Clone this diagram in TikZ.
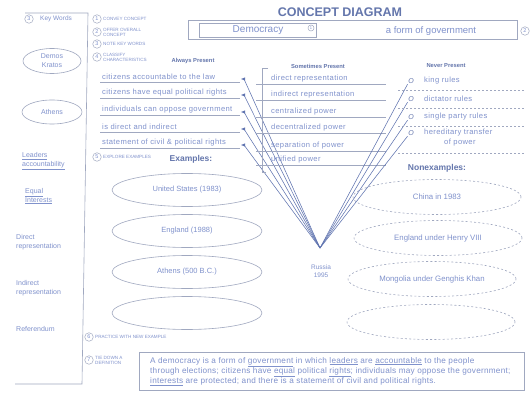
\documentclass[tikz,border=0pt]{standalone}
\usepackage{fontspec}
\setmainfont{Liberation Sans}
\usetikzlibrary{shapes.geometric}
\definecolor{tb}{RGB}{128,146,204}
\definecolor{lg}{RGB}{160,168,192}
\definecolor{tt}{RGB}{100,118,172}
\definecolor{cl}{RGB}{96,116,176}
\begin{document}
\begin{tikzpicture}[x=1pt,y=-1pt,
  num/.style={circle,draw=lg,line width=0.5pt,inner sep=0pt,minimum size=8.5pt,font=\fontsize{5.5}{5.5}\selectfont,text=tb},
  steptxt/.style={anchor=west,align=left,text=tb,font=\fontsize{4.6}{5}\selectfont,inner sep=0pt},
  hdr/.style={text=tt,font=\fontsize{5.8}{6.5}\selectfont\bfseries,inner sep=0pt},
  item/.style={anchor=west,text=tb,font=\fontsize{7.6}{8.5}\selectfont\addfontfeature{LetterSpace=5},inner sep=0pt},
  kwtxt/.style={text=tb,font=\fontsize{7}{9}\selectfont,align=left,inner sep=0pt},
  exell/.style={ellipse,draw=lg,line width=0.6pt,minimum width=150pt,minimum height=33pt,text=tb,font=\fontsize{7.5}{8}\selectfont},
  nexell/.style={ellipse,draw=lg,line width=0.6pt,dash pattern=on 2pt off 2.2pt,minimum width=168pt,minimum height=35pt,text=tb,font=\fontsize{7.8}{8}\selectfont},
  ul/.style={draw=lg,line width=0.5pt},
  dul/.style={draw=lg,line width=0.5pt,dash pattern=on 2pt off 2pt},
  conv/.style={draw=cl,line width=0.55pt},
  markpt/.style={inner sep=0pt,minimum size=0pt}
]
\useasboundingbox (0,0) rectangle (532,398);
\fill[white] (0,0) rectangle (532,398);

% title
\node[text=tt,font=\fontsize{12.5}{13}\selectfont\bfseries] (title) at (340,12) {CONCEPT DIAGRAM};

% key words column
\draw[lg,line width=0.6pt] (25,13) -- (88,13) -- (82,384) -- (15,384);
\node[num] (n3) at (29,19) {3};
\node[anchor=west,text=tb,font=\fontsize{6.5}{6.5}\selectfont,inner sep=0pt] (kwh) at (40,19) {Key Words};
\node[ellipse,draw=lg,line width=0.6pt,minimum width=58pt,minimum height=25pt,kwtxt,align=center] (k1) at (52,61) {Demos\\Kratos};
\node[ellipse,draw=lg,line width=0.6pt,minimum width=60pt,minimum height=24pt,kwtxt] (k2) at (52,112) {Athens};
\node[kwtxt,anchor=west] (k3) at (22,161) {\underline{Leaders}\\\underline{accountability}};
\node[kwtxt,anchor=west] (k4) at (25,196) {\underline{Equal}\\\underline{Interests}};
\node[kwtxt,anchor=west] (k5) at (16,242) {Direct\\representation};
\node[kwtxt,anchor=west] (k6) at (16,288) {Indirect\\representation};
\node[kwtxt,anchor=west] (k7) at (16,329) {Referendum};

% step labels
\node[num] (s1) at (97,19) {1};
\node[steptxt] (t1) at (103,19) {CONVEY CONCEPT};
\node[num] (s2) at (97,32) {2};
\node[steptxt] (t2) at (103,32) {OFFER OVERALL\\CONCEPT};
\node[num] (s3) at (97,44) {3};
\node[steptxt] (t3) at (103,44) {NOTE KEY WORDS};
\node[num] (s4) at (97,57) {4};
\node[steptxt] (t4) at (103,57) {CLASSIFY\\CHARACTERISTICS};

% concept box
\draw[lg,line width=0.6pt] (188,20) rectangle (517,39);
\node[draw=lg,line width=0.6pt,minimum width=117pt,minimum height=14pt,inner sep=0pt,text=tb,font=\fontsize{10}{10}\selectfont] (concept) at (258,30) {Democracy};
\node[num,minimum size=6pt,font=\fontsize{4}{4}\selectfont] (c1) at (311,28) {1};
\node[text=tb,font=\fontsize{9.5}{10}\selectfont,inner sep=0pt] (overall) at (431,31) {a form of government};
\node[num] (c2) at (525,31) {2};

% headers
\node[hdr] (hA) at (193,61) {Always Present};
\node[hdr] (hS) at (318,66) {Sometimes Present};
\node[hdr] (hN) at (446,66) {Never Present};

% apex
\coordinate (apex) at (320,248);

% always present
\foreach \i/\y/\t in {1/77/citizens accountable to the law,
                      2/93/citizens have equal political rights,
                      3/110/individuals can oppose government,
                      4/127/is direct and indirect,
                      5/143/statement of civil \& political rights}{
  \node[item] (a\i) at (102,\y) {\t};
  \draw[ul] (100,\y+5) -- (240,\y+5);
  \node[markpt] (am\i) at (244,\y+2) {};
  \fill[cl] (am\i) ++(-3,0) -- ++(4,-1.6) -- ++(0,3.2) -- cycle;
  \draw[conv] (am\i) -- (apex);
}

% sometimes present
\draw[lg,line width=0.6pt] (268,68) -- (262,68) -- (262,172) -- (266,172);
\foreach \i/\y/\t in {1/79/direct representation,
                      2/95/indirect representation,
                      3/112/centralized power,
                      4/128/decentralized power,
                      5/146/separation of power,
                      6/160/unified power}{
  \node[item] (sp\i) at (271,\y) {\t};
  \draw[ul] (256,\y+5) -- (386,\y+5);
}

% never present
\foreach \i/\y/\t in {1/81/king rules,
                      2/99/dictator rules,
                      3/117/single party rules,
                      4/133/hereditary transfer}{
  \node[text=tt,font=\fontsize{7}{7}\selectfont\itshape,inner sep=0.5pt] (o\i) at (411,\y) {O};
  \node[item] (np\i) at (424,\y) {\t};
  \draw[conv] (o\i.south west) -- (apex);
}
\node[item] (np5) at (444,143) {of power};
\foreach \y in {90,108,126,153}{\draw[dul] (398,\y) -- (524,\y);}

% examples
\node[num] (s5) at (97,157) {5};
\node[steptxt] (t5) at (103,157) {EXPLORE EXAMPLES};
\node[text=tt,font=\fontsize{8.5}{9}\selectfont\bfseries,inner sep=0pt] (hE) at (191,159) {Examples:};
\node[exell] (e1) at (187,190) {United States (1983)};
\node[exell] (e2) at (187,231) {England (1988)};
\node[exell] (e3) at (187,272) {Athens (500 B.C.)};
\node[exell] (e4) at (187,313) {};

% nonexamples
\node[text=tt,font=\fontsize{8.5}{9}\selectfont\bfseries,inner sep=0pt] (hX) at (437,168) {Nonexamples:};
\node[nexell] (x1) at (437,197) {China in 1983};
\node[nexell] (x2) at (438,238) {England under Henry VIII};
\node[nexell] (x3) at (432,279) {Mongolia under Genghis Khan};
\node[nexell] (x4) at (431,322) {};

% new example
\node[text=tb,font=\fontsize{6.5}{7.5}\selectfont,align=center,inner sep=0pt] (newex) at (321,271) {Russia\\1995};

% bottom steps
\node[num] (s6) at (89,337) {6};
\node[steptxt] (t6) at (95,337) {PRACTICE WITH NEW EXAMPLE};
\node[num] (s7) at (89,360) {7};
\node[steptxt] (t7) at (95,360) {TIE DOWN A\\DEFINITION};

% definition
\draw[lg,line width=0.6pt] (139,352) rectangle (524,390);
\node[anchor=north west,text=tb,font=\fontsize{8.2}{10.2}\selectfont\addfontfeature{LetterSpace=3},align=left,inner sep=0pt] (def) at (150,357)
 {A democracy is a form of \underline{government} in which \underline{leaders} are \underline{accountable} to the people\\
  through elections; citizens have \underline{equal} political \underline{rights}; individuals may oppose the government;\\
  \underline{interests} are protected; and there is a statement of civil and political rights.};
\end{tikzpicture}
\end{document}
